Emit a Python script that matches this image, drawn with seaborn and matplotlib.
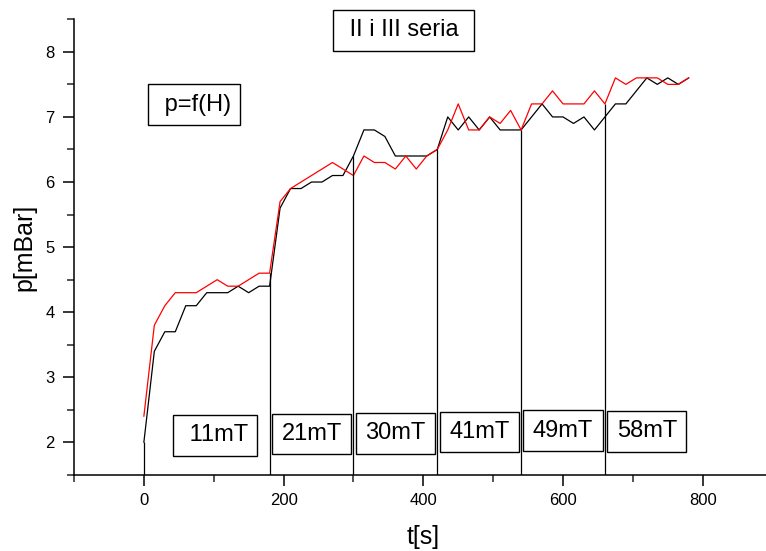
import numpy as np
import pandas as pd
import matplotlib
matplotlib.use('Agg')
import matplotlib.pyplot as plt
import seaborn as sns
from matplotlib.ticker import MultipleLocator

# czas [s], co 15 s
t = list(range(0, 781, 15))

# seria II (czarna) i III (czerwona), p [mBar]
p_black = [2.0, 3.4, 3.7, 3.7, 4.1, 4.1, 4.3, 4.3, 4.3, 4.4, 4.3, 4.4, 4.4,
           5.6, 5.9, 5.9, 6.0, 6.0, 6.1, 6.1, 6.4,
           6.8, 6.8, 6.7, 6.4, 6.4, 6.4, 6.4, 6.5,
           7.0, 6.8, 7.0, 6.8, 7.0, 6.8, 6.8, 6.8,
           7.0, 7.2, 7.0, 7.0, 6.9, 7.0, 6.8, 7.0,
           7.2, 7.2, 7.4, 7.6, 7.5, 7.6, 7.5, 7.6]
p_red = [2.4, 3.8, 4.1, 4.3, 4.3, 4.3, 4.4, 4.5, 4.4, 4.4, 4.5, 4.6, 4.6,
         5.7, 5.9, 6.0, 6.1, 6.2, 6.3, 6.2, 6.1,
         6.4, 6.3, 6.3, 6.2, 6.4, 6.2, 6.4, 6.5,
         6.8, 7.2, 6.8, 6.8, 7.0, 6.9, 7.1, 6.8,
         7.2, 7.2, 7.4, 7.2, 7.2, 7.2, 7.4, 7.2,
         7.6, 7.5, 7.6, 7.6, 7.6, 7.5, 7.5, 7.6]

# zmiany pola magnetycznego
t_switch = [0, 180, 300, 420, 540, 660]
p_switch = [2.0, 4.6, 6.4, 6.5, 6.8, 7.2]
fields = ['11mT', '21mT', '30mT', '41mT', '49mT', '58mT']

df = pd.DataFrame({'t': t + t,
                   'p': p_black + p_red,
                   'seria': ['II'] * len(t) + ['III'] * len(t)})

sns.set_theme(style='ticks')
plt.rcParams['font.family'] = ['Liberation Sans', 'DejaVu Sans']
plt.rcParams['text.color'] = 'black'
plt.rcParams['axes.labelcolor'] = 'black'

fig = plt.figure(figsize=(7.66, 5.51), dpi=100)
ax = fig.add_axes([0.0966, 0.138, 0.912, 0.827])

sns.lineplot(data=df, x='t', y='p', hue='seria', hue_order=['II', 'III'],
             palette={'II': 'black', 'III': 'red'}, estimator=None, sort=False,
             linewidth=0.9, legend=False, ax=ax)

ax.vlines(t_switch, 1.5, p_switch, color='black', linewidth=0.9)

ax.set_xlim(-100, 900)
ax.set_ylim(1.5, 8.5)
ax.xaxis.set_major_locator(MultipleLocator(200))
ax.xaxis.set_minor_locator(MultipleLocator(100))
ax.yaxis.set_major_locator(MultipleLocator(1))
ax.yaxis.set_minor_locator(MultipleLocator(0.5))
ax.tick_params(which='major', direction='out', length=8, width=1.1, labelsize=12, colors='black')
ax.tick_params(axis='y', which='major', pad=6)
ax.tick_params(axis='x', which='major', pad=5)
ax.tick_params(which='minor', direction='out', length=5, width=1.1)
for s in ['top', 'right']:
    ax.spines[s].set_visible(False)
for s in ['left', 'bottom']:
    ax.spines[s].set_linewidth(1.1)
    ax.spines[s].set_color('black')

ax.set_xlabel('t[s]', fontsize=18, labelpad=12)
ax.set_ylabel('p[mBar]', fontsize=18, labelpad=6)

box = dict(boxstyle='square,pad=0.4', facecolor='white', edgecolor='black', linewidth=1.0)
label_x = [102, 240, 360, 480, 600, 720]
label_y = [2.11, 2.13, 2.14, 2.16, 2.18, 2.17]
for i, f in enumerate(fields):
    txt = ' ' + f if i == 0 else f
    ax.text(label_x[i], label_y[i], txt, fontsize=17, ha='center', va='center', bbox=box)

ax.text(372, 8.33, ' II i III seria ', fontsize=17, ha='center', va='center', bbox=box)
ax.text(72, 7.19, ' p=f(H)', fontsize=17, ha='center', va='center', bbox=box)

fig.savefig('out.png', dpi=100)
